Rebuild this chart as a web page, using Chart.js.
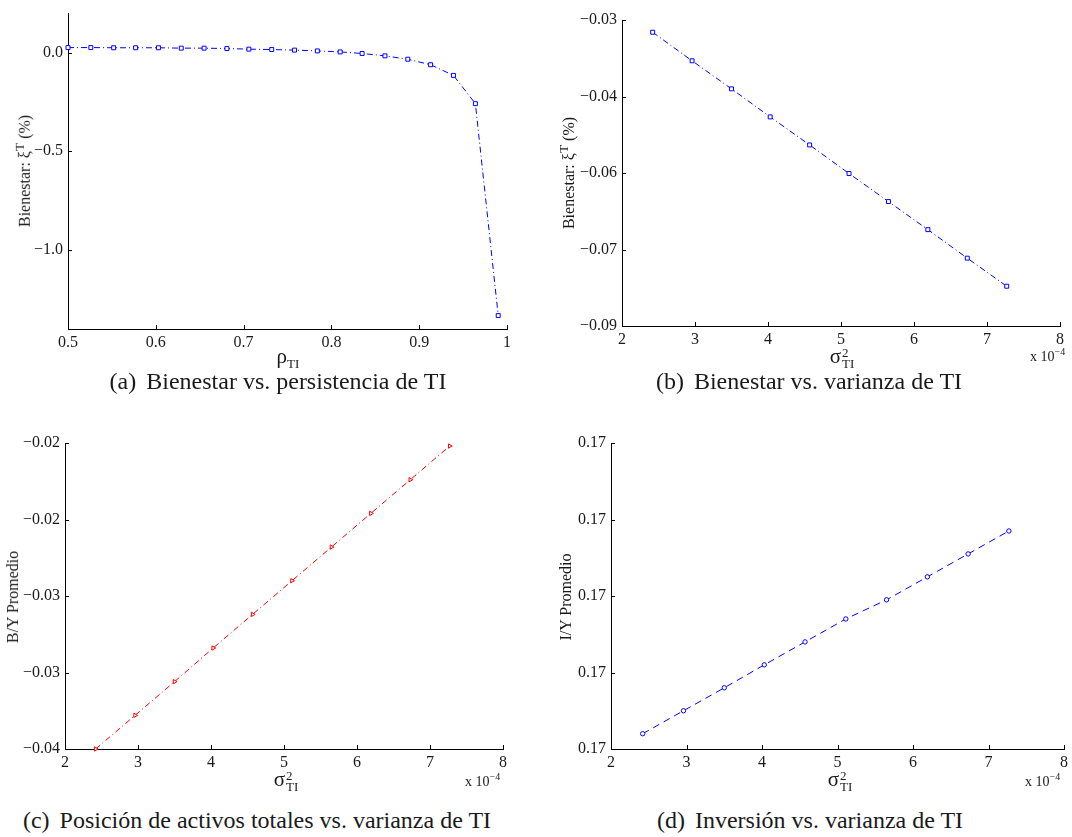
<!DOCTYPE html>
<html>
<head>
<meta charset="utf-8">
<script src="https://cdn.jsdelivr.net/npm/chart.js@4.4.0/dist/chart.umd.min.js"></script>
<style>
html, body { margin: 0; padding: 0; background: #fff; }
body { width: 1072px; height: 837px; position: relative; overflow: hidden;
       font-family: "Liberation Serif", "Times New Roman", serif; color: #1a1a1a; }
canvas { position: absolute; }
.t { position: absolute; white-space: nowrap; transform: translate(-50%, -50%); line-height: 1; }
.rot { transform: translate(-50%, -50%) rotate(-90deg); }
.cap { font-size: 24px; }
.ylab { font-size: 16px; }
.xlab { font-size: 21px; }
.xlab sub { font-size: 13px; vertical-align: -5px; }
.ss { display: inline-block; vertical-align: middle; font-size: 13px; line-height: 11px; margin-left: 1px; }
.ss span { display: block; }
.mult { position: absolute; font-size: 14px; white-space: nowrap; }
.mult sup { font-size: 10px; }
.gap { display: inline-block; width: 10px; }
</style>
</head>
<body>
<canvas id="chartA"></canvas>
<canvas id="chartB"></canvas>
<canvas id="chartC"></canvas>
<canvas id="chartD"></canvas>

<div class="t rot ylab" style="left:23px; top:171px;">Bienestar: ξ<sup>T</sup> (%)</div>
<div class="t rot ylab" style="left:567px; top:173px;">Bienestar: ξ<sup>T</sup> (%)</div>
<div class="t rot ylab" style="left:13px; top:597px;">B/Y Promedio</div>
<div class="t rot ylab" style="left:566px; top:597px;">I/Y Promedio</div>

<div class="t xlab" style="left:288px; top:358px;">ρ<sub>TI</sub></div>
<div class="t xlab" style="left:842px; top:358px;">σ<span class="ss"><span>2</span><span>TI</span></span></div>
<div class="t xlab" style="left:286px; top:781px;">σ<span class="ss"><span>2</span><span>TI</span></span></div>
<div class="t xlab" style="left:840px; top:781px;">σ<span class="ss"><span>2</span><span>TI</span></span></div>

<div class="mult" style="left:1030px; top:346px;">x 10<sup>−4</sup></div>
<div class="mult" style="left:465px; top:771px;">x 10<sup>−4</sup></div>
<div class="mult" style="left:1025px; top:771px;">x 10<sup>−4</sup></div>

<div class="t cap" style="left:278px; top:381px;">(a)<span class="gap"></span>Bienestar vs. persistencia de TI</div>
<div class="t cap" style="left:809px; top:381px;">(b)<span class="gap"></span>Bienestar vs. varianza de TI</div>
<div class="t cap" style="left:257px; top:820px;">(c)<span class="gap"></span>Posición de activos totales vs. varianza de TI</div>
<div class="t cap" style="left:810px; top:820px;">(d)<span class="gap"></span>Inversión vs. varianza de TI</div>

<script>
// (a) persistencia de TI
const rhoTI = [0.500, 0.526, 0.552, 0.577, 0.603, 0.629, 0.655, 0.681, 0.706, 0.732,
               0.758, 0.784, 0.810, 0.835, 0.861, 0.887, 0.913, 0.939, 0.964, 0.990];
const bienestarRho = [0.025, 0.025, 0.024, 0.024, 0.024, 0.022, 0.022, 0.020, 0.017, 0.015,
                      0.012, 0.008, 0.003, -0.005, -0.017, -0.034, -0.062, -0.116, -0.259, -1.332];

// (b), (c), (d) varianza de TI (x 10^-4)
const varTI = [2.42, 2.96, 3.50, 4.03, 4.57, 5.11, 5.65, 6.19, 6.73, 7.27];
const bienestarVar = [-0.0324, -0.0380, -0.0435, -0.0490, -0.0545, -0.0601, -0.0656, -0.0711, -0.0767, -0.0822];
const byPromedio = [-0.0400, -0.0378, -0.0356, -0.0334, -0.0312, -0.0290, -0.0268, -0.0246, -0.0224, -0.0202];
const iyPromedio = [0.17004, 0.17010, 0.17016, 0.17022, 0.17028, 0.17034, 0.17039, 0.17045, 0.17051, 0.17057];

// ticks
const rhoTicks = [0.5, 0.6, 0.7, 0.8, 0.9, 1];
const rhoLabels = ['0.5', '0.6', '0.7', '0.8', '0.9', '1'];
const varTicks = [2, 3, 4, 5, 6, 7, 8];
const varLabels = ['2', '3', '4', '5', '6', '7', '8'];
const aYTicks = [-1.0, -0.5, 0.0];
const aYLabels = ['\u22121.0', '\u22120.5', '0.0'];
const bYTicks = [-0.09, -0.075, -0.06, -0.045, -0.03];
const bYLabels = ['\u22120.09', '\u22120.07', '\u22120.06', '\u22120.04', '\u22120.03'];
const cYTicks = [-0.04, -0.035, -0.03, -0.025, -0.02];
const cYLabels = ['\u22120.04', '\u22120.03', '\u22120.03', '\u22120.02', '\u22120.02'];
const dYTicks = [0.1700, 0.1702, 0.1704, 0.1706, 0.1708];
const dYLabels = ['0.17', '0.17', '0.17', '0.17', '0.17'];

// marcas de eje hacia adentro (estilo MATLAB)
const inwardTicks = {
  id: 'inwardTicks',
  afterDraw(chart) {
    const ctx = chart.ctx, a = chart.chartArea, x = chart.scales.x, y = chart.scales.y;
    ctx.save();
    ctx.strokeStyle = '#000';
    ctx.lineWidth = 1;
    ctx.beginPath();
    x.ticks.forEach(function(t) {
      const px = Math.round(x.getPixelForValue(t.value)) + 0.5;
      ctx.moveTo(px, a.bottom);
      ctx.lineTo(px, a.bottom - 4);
    });
    y.ticks.forEach(function(t) {
      const py = Math.round(y.getPixelForValue(t.value)) + 0.5;
      ctx.moveTo(a.left, py);
      ctx.lineTo(a.left + 4, py);
    });
    ctx.stroke();
    ctx.restore();
  }
};

const tickFont = { family: '"Liberation Serif", "Times New Roman", serif', size: 16 };

let _drawPanel = function(id, area, cfg) {
  const cv = document.getElementById(id);
  const w = area.right - area.left + 84, h = area.bottom - area.top + 40;
  cv.width = w; cv.height = h;
  cv.style.width = w + 'px'; cv.style.height = h + 'px';
  cv.style.left = (area.left - 70) + 'px';
  cv.style.top = (area.top - 10) + 'px';

  new Chart(cv, {
    type: 'scatter',
    data: {
      datasets: [{
        data: cfg.x.map(function(v, i) { return { x: v, y: cfg.y[i] }; }),
        showLine: true,
        borderColor: cfg.color,
        borderWidth: 1,
        borderDash: cfg.dash,
        pointStyle: cfg.marker,
        rotation: cfg.rotation || 0,
        pointRadius: cfg.radius,
        pointBorderWidth: 1,
        pointBorderColor: cfg.color,
        pointBackgroundColor: '#fff',
        tension: 0,
        clip: false
      }]
    },
    options: {
      responsive: false,
      animation: false,
      events: [],
      layout: { padding: { left: 0, top: 10, right: 14, bottom: 0 } },
      plugins: { legend: { display: false }, tooltip: { enabled: false } },
      scales: {
        x: {
          type: 'linear', min: cfg.xMin, max: cfg.xMax,
          afterBuildTicks: function(s) { s.ticks = cfg.xTicks.map(function(v) { return { value: v }; }); },
          afterFit: function(s) { s.height = 30; s.paddingLeft = 0; s.paddingRight = 0; },
          ticks: { callback: function(v, i) { return cfg.xLabels[i]; }, font: tickFont, color: '#1a1a1a',
                   padding: 4, maxRotation: 0, autoSkip: false },
          grid: { display: false, drawTicks: false },
          border: { display: true, color: '#000', width: 1 }
        },
        y: {
          type: 'linear', min: cfg.yMin, max: cfg.yMax,
          afterBuildTicks: function(s) { s.ticks = cfg.yTicks.map(function(v) { return { value: v }; }); },
          afterFit: function(s) { s.width = 70; s.paddingTop = 0; s.paddingBottom = 0; },
          ticks: { callback: function(v, i) { return cfg.yLabels[i]; }, font: tickFont, color: '#1a1a1a',
                   padding: 5, autoSkip: false },
          grid: { display: false, drawTicks: false },
          border: { display: true, color: '#000', width: 1 }
        }
      }
    },
    plugins: [inwardTicks]
  });
};

// (a) Bienestar vs. persistencia de TI
_drawPanel('chartA', { left: 68, top: 13, right: 507, bottom: 329 }, {
  x: rhoTI, y: bienestarRho, xMin: 0.5, xMax: 1, yMin: -1.4, yMax: 0.2,
  xTicks: rhoTicks, xLabels: rhoLabels, yTicks: aYTicks, yLabels: aYLabels,
  color: '#0000ff', dash: [6, 3, 1, 3], marker: 'rect', radius: 2.8
});

// (b) Bienestar vs. varianza de TI
_drawPanel('chartB', { left: 622, top: 20, right: 1060, bottom: 326 }, {
  x: varTI, y: bienestarVar, xMin: 2, xMax: 8, yMin: -0.09, yMax: -0.03,
  xTicks: varTicks, xLabels: varLabels, yTicks: bYTicks, yLabels: bYLabels,
  color: '#0000ff', dash: [6, 3, 1, 3], marker: 'rect', radius: 2.8
});

// (c) Posición de activos totales vs. varianza de TI
_drawPanel('chartC', { left: 65, top: 443, right: 503, bottom: 749 }, {
  x: varTI, y: byPromedio, xMin: 2, xMax: 8, yMin: -0.04, yMax: -0.02,
  xTicks: varTicks, xLabels: varLabels, yTicks: cYTicks, yLabels: cYLabels,
  color: '#ff0000', dash: [6, 3, 1, 3], marker: 'triangle', rotation: 90, radius: 2.5
});

// (d) Inversión vs. varianza de TI
_drawPanel('chartD', { left: 611, top: 443, right: 1064, bottom: 749 }, {
  x: varTI, y: iyPromedio, xMin: 2, xMax: 8, yMin: 0.1700, yMax: 0.1708,
  xTicks: varTicks, xLabels: varLabels, yTicks: dYTicks, yLabels: dYLabels,
  color: '#0000ff', dash: [7, 5], marker: 'circle', radius: 2.2
});
</script>
</body>
</html>
